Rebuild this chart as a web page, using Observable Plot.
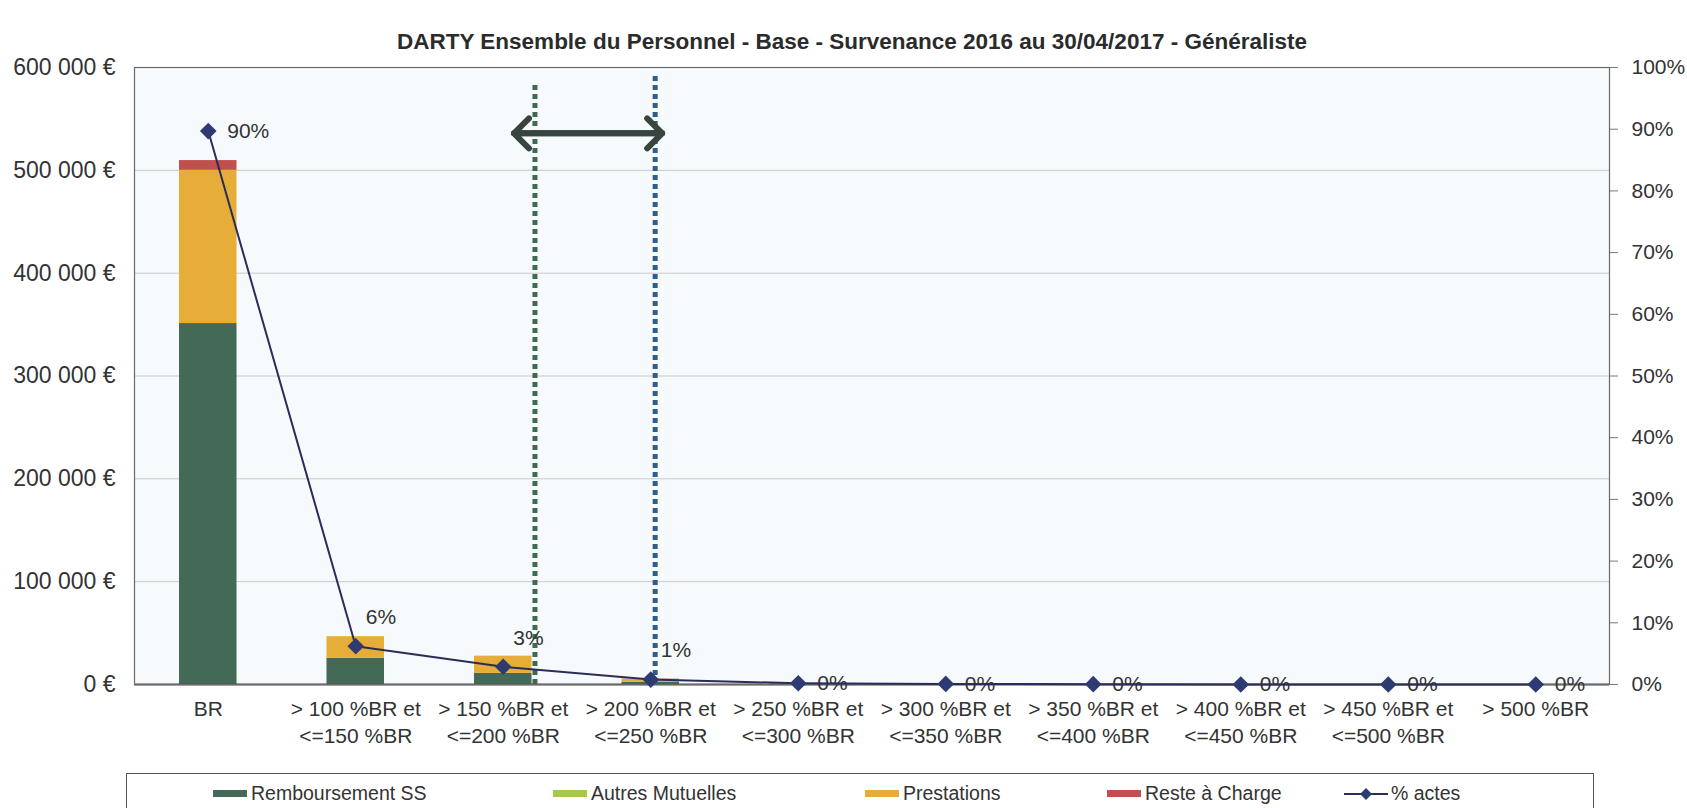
<!DOCTYPE html>
<html>
<head>
<meta charset="utf-8">
<script src="https://cdn.jsdelivr.net/npm/d3@7"></script>
<script src="https://cdn.jsdelivr.net/npm/@observablehq/plot@0.6"></script>
<style>
  html, body { margin: 0; padding: 0; background: #ffffff; }
  body { font-family: "Liberation Sans", Arial, sans-serif; color: #333; }
  #wrap { position: relative; width: 1687px; height: 808px; overflow: hidden; }
  #title { position: absolute; top: 29px; left: 852px; transform: translateX(-50%); white-space: nowrap;
           font-size: 22.5px; font-weight: bold; color: #2b2b2b; }
  #chart { position: absolute; left: 0; top: 0; }
  #legend { position: absolute; left: 126px; top: 773px; width: 1468px; height: 60px;
            border: 1px solid #555; box-sizing: border-box; }
  .item { position: absolute; top: 8px; display: flex; align-items: center; font-size: 19.5px; color: #333; white-space: nowrap; }
  .sw { display: inline-block; width: 34px; height: 7px; margin-right: 4px; }
</style>
</head>
<body>
<div id="wrap">
  <div id="chart"></div>
  <div id="title"></div>
  <div id="legend"></div>
</div>
<script>
// ---------- data ----------
const chartTitle = "DARTY Ensemble du Personnel - Base - Survenance 2016 au 30/04/2017 - Généraliste";
const categories = [
  "BR",
  "> 100 %BR et\n<=150 %BR",
  "> 150 %BR et\n<=200 %BR",
  "> 200 %BR et\n<=250 %BR",
  "> 250 %BR et\n<=300 %BR",
  "> 300 %BR et\n<=350 %BR",
  "> 350 %BR et\n<=400 %BR",
  "> 400 %BR et\n<=450 %BR",
  "> 450 %BR et\n<=500 %BR",
  "> 500 %BR"
];
const seriesNames = ["Remboursement SS", "Autres Mutuelles", "Prestations", "Reste à Charge"];
const seriesColors = ["#426a57", "#a9c74c", "#e6ad38", "#c0504d"];
const rembSS          = [351000, 25500, 10800, 2000, 500, 0, 0, 0, 0, 0];
const autresMutuelles = [0, 0, 0, 0, 0, 0, 0, 0, 0, 0];
const prestations     = [149000, 21000, 16800, 3000, 500, 0, 0, 0, 0, 0];
const resteACharge    = [9500, 0, 0, 300, 0, 0, 0, 0, 0, 0];
const pctActes = [0.897, 0.062, 0.0287, 0.008, 0.002, 0.001, 0.0005, 0, 0, 0];
const pctName = "% actes";
const leftTicks = [0, 100000, 200000, 300000, 400000, 500000, 600000];
const rightTicks = [0, 0.1, 0.2, 0.3, 0.4, 0.5, 0.6, 0.7, 0.8, 0.9, 1];
// annotation: dotted guide lines (category index + where on the bar) and the double arrow level
const guides = [
  {cat: 2, at: "right", top: 586000, color: "#3e6b4d"},
  {cat: 3, at: "center", top: 592000, color: "#2d5e8c"}
];
const arrowLevel = 536000;

// ---------- build ----------
const W = 1687, H = 770;
const yMax = 600000;
const barHalf = 0.195;
const seriesValues = [rembSS, autresMutuelles, prestations, resteACharge];

const stacked = [];
categories.forEach((c, i) => {
  let base = 0;
  seriesValues.forEach((vals, s) => {
    stacked.push({i, series: seriesNames[s], y1: base, y2: base + vals[i]});
    base += vals[i];
  });
});
const pctData = pctActes.map((p, i) => ({
  i, v: p * yMax, label: Math.round(p * 100) + "%", raised: p >= 0.005 && p < 0.1
}));
const guideData = guides.map(g => ({...g, x: g.cat + (g.at === "right" ? barHalf + 0.02 : 0.03)}));
const gx0 = guideData[0].x, gx1 = guideData[1].x;

const locale = d3.formatLocale({decimal: ",", thousands: "\u00a0", grouping: [3], currency: ["", "\u00a0€"]});
const euro = locale.format("$,.0f");

const arrowStyle = {stroke: "#38453f", strokeWidth: 6, headAngle: 90, headLength: 5.3, bend: 0};

const chart = Plot.plot({
  width: W, height: H,
  marginTop: 67, marginBottom: H - 684, marginLeft: 134, marginRight: W - 1609,
  x: {type: "linear", domain: [-0.5, categories.length - 0.5]},
  y: {domain: [0, yMax]},
  color: {domain: seriesNames, range: seriesColors},
  style: {fontFamily: "'Liberation Sans', Arial, sans-serif", fontSize: "21px", color: "#333", background: "transparent", overflow: "visible"},
  marks: [
    Plot.frame({fill: "#f7fafc", stroke: "none"}),
    Plot.gridY(leftTicks.slice(1, -1), {stroke: "#c8c8c8", strokeOpacity: 1, strokeWidth: 1}),
    Plot.axisY({ticks: leftTicks, tickFormat: euro, tickSize: 0, tickPadding: 19, fontSize: 23, label: null}),
    Plot.axisY({ticks: rightTicks.map(p => p * yMax), anchor: "right",
      tickFormat: v => Math.round(v / yMax * 100) + "%", tickSize: 8, tickPadding: 14,
      stroke: "#777", fontSize: 21, label: null}),
    Plot.axisX({ticks: d3.range(categories.length), tickFormat: i => categories[i],
      tickSize: 0, tickPadding: 12, lineHeight: 1.3, fontSize: 21, label: null}),
    Plot.rect(stacked, {x1: d => d.i - barHalf, x2: d => d.i + barHalf, y1: "y1", y2: "y2", fill: "series"}),
    Plot.ruleX(guideData, {x: "x", y1: 0, y2: "top", stroke: "color", strokeWidth: 5, strokeDasharray: "5,4"}),
    Plot.arrow([{x1: gx0, x2: gx1, y: arrowLevel}], {x1: "x1", x2: "x2", y1: "y", y2: "y", insetStart: -21, insetEnd: -7, ...arrowStyle}),
    Plot.arrow([{x1: gx1, x2: gx0, y: arrowLevel}], {x1: "x1", x2: "x2", y1: "y", y2: "y", insetStart: -7, insetEnd: -21, ...arrowStyle}),
    Plot.ruleY([0], {stroke: "#555", strokeWidth: 2}),
    Plot.frame({stroke: "#6a6a6a", strokeWidth: 1.2}),
    Plot.text(pctData.filter(d => !d.raised), {x: "i", y: "v", text: "label", textAnchor: "start", dx: 19, fontSize: 21, fill: "#333"}),
    Plot.text(pctData.filter(d => d.raised), {x: "i", y: "v", text: "label", textAnchor: "start", dx: 10, dy: -29, fontSize: 21, fill: "#333"}),
    Plot.line(pctData, {x: "i", y: "v", stroke: "#2a2d57", strokeWidth: 2}),
    Plot.dot(pctData, {x: "i", y: "v", symbol: "diamond2", r: 7.5, fill: "#2e3b72", stroke: "none"})
  ]
});
document.getElementById("chart").appendChild(chart);
document.getElementById("title").textContent = chartTitle;

// ---------- legend ----------
const legendLeft = [86, 426, 738, 980, 1217]; // offsets inside legend box
const legend = document.getElementById("legend");
seriesNames.forEach((name, s) => {
  const it = document.createElement("div");
  it.className = "item";
  it.style.left = legendLeft[s] + "px";
  it.innerHTML = `<span class="sw" style="background:${seriesColors[s]}"></span><span></span>`;
  it.lastChild.textContent = name;
  legend.appendChild(it);
});
const li = document.createElement("div");
li.className = "item";
li.style.left = legendLeft[4] + "px";
li.innerHTML = `<svg width="44" height="16" style="margin-right:3px"><line x1="0" y1="8" x2="44" y2="8" stroke="#2a2d57" stroke-width="2"/><path d="M22,2L28,8L22,14L16,8Z" fill="#2e3b72"/></svg><span></span>`;
li.lastChild.textContent = pctName;
legend.appendChild(li);
</script>
</body>
</html>
